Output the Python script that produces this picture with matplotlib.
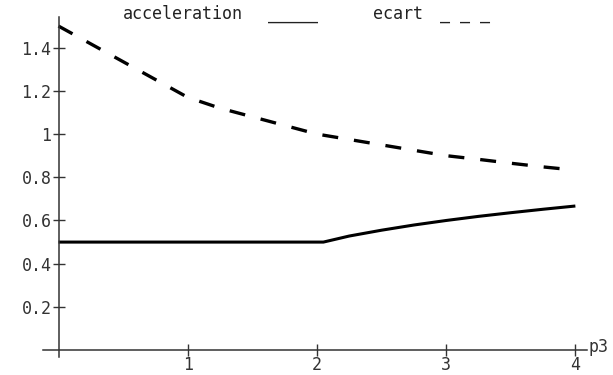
import matplotlib
matplotlib.use("Agg")
import matplotlib.pyplot as plt

# valeurs
p3_acc = [0.0, 1.0, 2.05, 2.25, 2.5, 2.75, 3.0, 3.25, 3.5, 3.75, 4.0]
acceleration = [0.5, 0.5, 0.5, 0.528, 0.555, 0.579, 0.60, 0.619, 0.636, 0.652, 0.667]

p3_ecart = [0.0, 0.5, 1.0, 1.25, 1.5, 1.75, 2.0, 2.25, 2.5, 2.75, 3.0, 3.25, 3.5, 3.75, 4.0]
ecart = [1.5, 1.335, 1.17, 1.12, 1.08, 1.04, 1.0, 0.975, 0.95, 0.925, 0.90, 0.883, 0.865, 0.848, 0.833]

xticks = [1, 2, 3, 4]
yticks = [0.2, 0.4, 0.6, 0.8, 1.0, 1.2, 1.4]
ylabels = ["0.2", "0.4", "0.6", "0.8", "1", "1.2", "1.4"]

plt.rcParams["font.family"] = "DejaVu Sans Mono"
plt.rcParams["lines.scale_dashes"] = False

fig = plt.figure(figsize=(6.13, 3.75), dpi=100)
ax = fig.add_axes([43 / 613, 18 / 375, 544 / 613, 340 / 375])

ax.plot(p3_acc, acceleration, color="black", lw=2.2, solid_capstyle="butt")
ax.plot(p3_ecart, ecart, color="black", lw=2.4, dashes=(11.5, 11.5))

ax.set_xlim(-0.12, 4.09)
ax.set_ylim(-0.032, 1.542)

for s in ["top", "right"]:
    ax.spines[s].set_visible(False)
ax.spines["left"].set_position(("data", 0))
ax.spines["bottom"].set_position(("data", 0))
for s in ["left", "bottom"]:
    ax.spines[s].set_color("#333333")
    ax.spines[s].set_linewidth(1.1)

ax.set_xticks(xticks)
ax.set_xticklabels([str(t) for t in xticks])
ax.set_yticks(yticks)
ax.set_yticklabels(ylabels)
ax.tick_params(direction="inout", length=8, width=1.0, color="#333333",
               labelsize=12, labelcolor="#333333")
ax.tick_params(axis="y", pad=1)
ax.tick_params(axis="x", pad=0)

ax.text(4.10, 0.015, "p3", fontsize=12, color="#333333", va="center", ha="left")

# légende en haut
ly = 1 - 14 / 375
fig.text(123 / 613, ly, "acceleration", fontsize=12, color="#222222", va="center")
fig.text(268 / 613, ly, "_____", fontsize=12, color="#222222", va="center")
fig.text(373 / 613, ly, "ecart", fontsize=12, color="#222222", va="center")
fig.text(440 / 613, ly, "_ _ _", fontsize=12, color="#222222", va="center")

fig.savefig("out.png", dpi=100)
